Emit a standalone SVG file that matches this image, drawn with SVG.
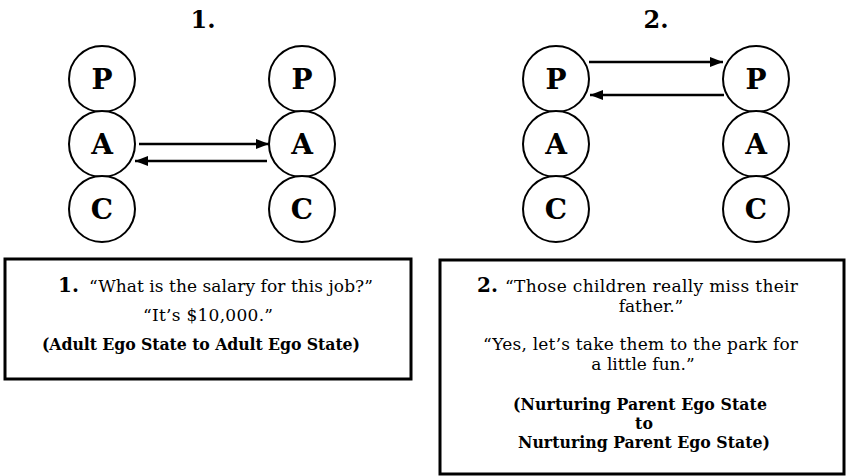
<svg xmlns="http://www.w3.org/2000/svg" width="846" height="476" viewBox="0 0 846 476">
  <style>
    .ego { fill: #fff; stroke: #000; stroke-width: 2; }
    .egol { font-family: "DejaVu Serif", serif; font-weight: bold; font-size: 28px; text-anchor: middle; fill: #000; }
    .title { font-family: "DejaVu Serif", serif; font-weight: bold; font-size: 24px; text-anchor: middle; fill: #000; }
    .box { fill: #fff; stroke: #000; stroke-width: 3; }
    .txt { font-family: "DejaVu Serif", serif; font-size: 17px; fill: #000; }
    .num { font-family: "DejaVu Serif", serif; font-weight: bold; font-size: 20px; fill: #000; }
    .bold { font-family: "DejaVu Serif", serif; font-weight: bold; font-size: 15.75px; fill: #000; text-anchor: middle; }
    .mid { text-anchor: middle; }
    .arrow { stroke: #000; stroke-width: 2.5; fill: none; marker-end: url(#head); }
  </style>
  <defs>
    <marker id="head" viewBox="0 0 13 10" refX="13" refY="5" markerWidth="13" markerHeight="10" markerUnits="userSpaceOnUse" orient="auto">
      <path d="M0,0 L13,5 L0,10 Z" fill="#000"/>
    </marker>
  </defs>

  <rect width="846" height="476" fill="#fff"/>

  <!-- transaction 1: Adult to Adult -->
  <text class="title" x="203" y="28">1.</text>
  <g id="t1-left-P"><circle class="ego" cx="102" cy="79" r="33"/><text class="egol" x="102" y="89">P</text></g>
  <g id="t1-left-A"><circle class="ego" cx="102" cy="144" r="33"/><text class="egol" x="102" y="154">A</text></g>
  <g id="t1-left-C"><circle class="ego" cx="102" cy="209" r="33"/><text class="egol" x="102" y="219">C</text></g>
  <g id="t1-right-P"><circle class="ego" cx="302" cy="79" r="33"/><text class="egol" x="302" y="89">P</text></g>
  <g id="t1-right-A"><circle class="ego" cx="302" cy="144" r="33"/><text class="egol" x="302" y="154">A</text></g>
  <g id="t1-right-C"><circle class="ego" cx="302" cy="209" r="33"/><text class="egol" x="302" y="219">C</text></g>

  <!-- transaction 2: Parent to Parent -->
  <text class="title" x="656" y="28">2.</text>
  <g id="t2-left-P"><circle class="ego" cx="556" cy="79" r="33"/><text class="egol" x="556" y="89">P</text></g>
  <g id="t2-left-A"><circle class="ego" cx="556" cy="144" r="33"/><text class="egol" x="556" y="154">A</text></g>
  <g id="t2-left-C"><circle class="ego" cx="556" cy="209" r="33"/><text class="egol" x="556" y="219">C</text></g>
  <g id="t2-right-P"><circle class="ego" cx="756" cy="79" r="33"/><text class="egol" x="756" y="89">P</text></g>
  <g id="t2-right-A"><circle class="ego" cx="756" cy="144" r="33"/><text class="egol" x="756" y="154">A</text></g>
  <g id="t2-right-C"><circle class="ego" cx="756" cy="209" r="33"/><text class="egol" x="756" y="219">C</text></g>

  <g id="connectors">
    <line class="arrow" x1="139" y1="144" x2="269" y2="144"/>
    <line class="arrow" x1="267" y1="161" x2="135" y2="161"/>
    <line class="arrow" x1="589" y1="62" x2="723" y2="62"/>
    <line class="arrow" x1="724" y1="95" x2="590" y2="95"/>
  </g>

  <!-- caption 1 -->
  <g id="caption-1">
    <rect class="box" x="5" y="259" width="406" height="120"/>
    <text class="num" x="58" y="292">1.</text>
    <text class="txt" x="89" y="292" textLength="284" lengthAdjust="spacing">“What is the salary for this job?”</text>
    <text class="txt mid" x="208" y="321" textLength="130" lengthAdjust="spacing">“It’s $10,000.”</text>
    <text class="bold" x="201" y="350" textLength="318" lengthAdjust="spacing">(Adult Ego State to Adult Ego State)</text>
  </g>

  <!-- caption 2 -->
  <g id="caption-2">
    <rect class="box" x="440" y="260" width="404" height="214"/>
    <text class="num" x="477" y="292">2.</text>
    <text class="txt" x="505" y="292" textLength="293" lengthAdjust="spacing">“Those children really miss their</text>
    <text class="txt mid" x="651" y="312">father.”</text>
    <text class="txt mid" x="640.5" y="350" textLength="315" lengthAdjust="spacing">“Yes, let’s take them to the park for</text>
    <text class="txt mid" x="643" y="370">a little fun.”</text>
    <text class="bold" x="640" y="410" textLength="254" lengthAdjust="spacing">(Nurturing Parent Ego State</text>
    <text class="bold" x="644" y="429">to</text>
    <text class="bold" x="644" y="448" textLength="252" lengthAdjust="spacing">Nurturing Parent Ego State)</text>
  </g>
</svg>
